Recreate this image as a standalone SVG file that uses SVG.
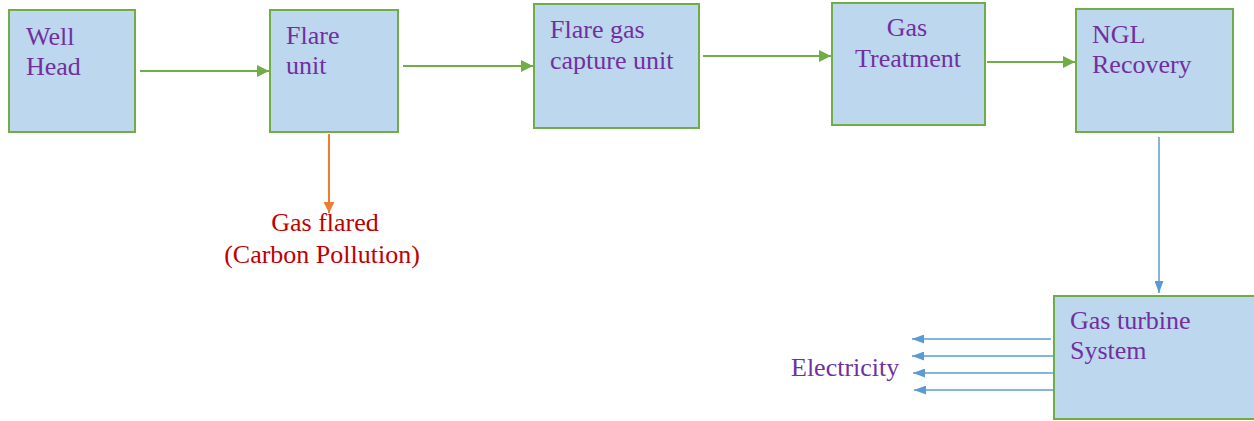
<svg xmlns="http://www.w3.org/2000/svg" width="1254" height="421" viewBox="0 0 1254 421">
  <style>
    .box { fill: #BDD7EE; stroke: #70AD47; stroke-width: 2; }
    .lbl { font-family: "Liberation Serif", "Times New Roman", serif; font-size: 26px; fill: #7030A0; }
    .red { fill: #C00000; }
    .g { stroke: #70AD47; stroke-width: 2; fill: none; }
    .o { stroke: #ED7D31; stroke-width: 2; fill: none; }
    .b { stroke: #5B9BD5; stroke-width: 1.5; fill: none; }
  </style>
  <defs>
    <marker id="ag" markerWidth="12" markerHeight="12" refX="10" refY="5" orient="auto" markerUnits="userSpaceOnUse" viewBox="0 0 10 10">
      <path d="M0,0 L10,5 L0,10 z" fill="#70AD47"/>
    </marker>
    <marker id="ao" markerWidth="12" markerHeight="11" refX="10" refY="5" orient="auto" markerUnits="userSpaceOnUse" viewBox="0 0 10 10">
      <path d="M0,0 L10,5 L0,10 z" fill="#ED7D31"/>
    </marker>
    <marker id="ab" markerWidth="12" markerHeight="9" refX="10" refY="5" orient="auto" markerUnits="userSpaceOnUse" viewBox="0 0 10 10" preserveAspectRatio="none">
      <path d="M0,0 L10,5 L0,10 z" fill="#5B9BD5"/>
    </marker>
  </defs>

  <g id="connectors">
    <line class="g" x1="140" y1="71" x2="269" y2="71" marker-end="url(#ag)"/>
    <line class="g" x1="403" y1="66" x2="533" y2="66" marker-end="url(#ag)"/>
    <line class="g" x1="703" y1="56" x2="831" y2="56" marker-end="url(#ag)"/>
    <line class="g" x1="987" y1="62" x2="1075" y2="62" marker-end="url(#ag)"/>
    <line class="o" x1="329" y1="134" x2="329" y2="213" marker-end="url(#ao)"/>
    <line class="b" x1="1159" y1="137" x2="1159" y2="293" marker-end="url(#ab)"/>
    <line class="b" x1="1051" y1="339" x2="912" y2="339" marker-end="url(#ab)"/>
    <line class="b" x1="1053" y1="356" x2="912" y2="356" marker-end="url(#ab)"/>
    <line class="b" x1="1053" y1="373" x2="913" y2="373" marker-end="url(#ab)"/>
    <line class="b" x1="1053" y1="390" x2="914" y2="390" marker-end="url(#ab)"/>
  </g>

  <g id="well-head">
    <rect class="box" x="9" y="10" width="126" height="122"/>
    <text class="lbl" x="26" y="45">Well</text>
    <text class="lbl" x="26" y="75">Head</text>
  </g>

  <g id="flare-unit">
    <rect class="box" x="270" y="10" width="128" height="122"/>
    <text class="lbl" x="286" y="44">Flare</text>
    <text class="lbl" x="286" y="74">unit</text>
  </g>

  <g id="flare-gas-capture">
    <rect class="box" x="534" y="4" width="165" height="124"/>
    <text class="lbl" x="550" y="38">Flare gas</text>
    <text class="lbl" x="550" y="69">capture unit</text>
  </g>

  <g id="gas-treatment">
    <rect class="box" x="832" y="3" width="153" height="122"/>
    <text class="lbl" x="907" y="36" text-anchor="middle">Gas</text>
    <text class="lbl" x="908" y="67" text-anchor="middle">Treatment</text>
  </g>

  <g id="ngl-recovery">
    <rect class="box" x="1076" y="9" width="157" height="123"/>
    <text class="lbl" x="1092" y="43">NGL</text>
    <text class="lbl" x="1092" y="73">Recovery</text>
  </g>

  <g id="gas-turbine">
    <rect class="box" x="1054" y="296" width="210" height="123"/>
    <text class="lbl" x="1070" y="329">Gas turbine</text>
    <text class="lbl" x="1070" y="359">System</text>
  </g>

  <g id="gas-flared">
    <text class="lbl red" x="325" y="231" text-anchor="middle">Gas flared</text>
    <text class="lbl red" x="322" y="263" text-anchor="middle">(Carbon Pollution)</text>
  </g>

  <g id="electricity">
    <text class="lbl" x="791" y="376">Electricity</text>
  </g>
</svg>
